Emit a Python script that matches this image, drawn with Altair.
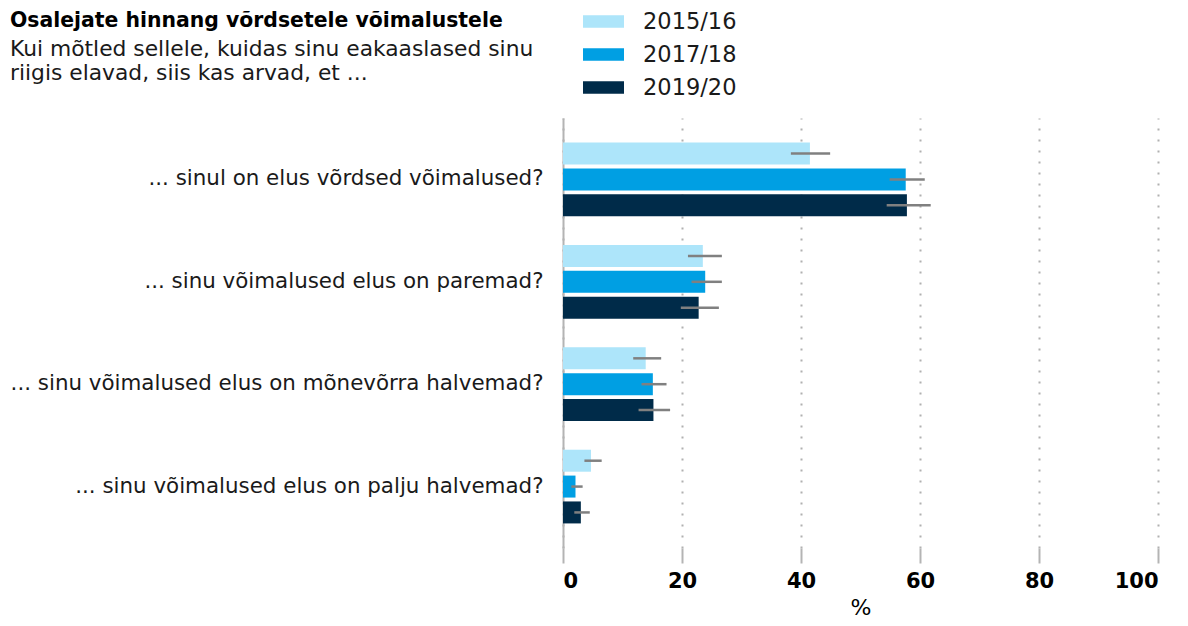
import altair as alt
import pandas as pd

questions = [
    "... sinul on elus võrdsed võimalused?",
    "... sinu võimalused elus on paremad?",
    "... sinu võimalused elus on mõnevõrra halvemad?",
    "... sinu võimalused elus on palju halvemad?",
]
years = ["2015/16", "2017/18", "2019/20"]
colors = ["#ADE5FA", "#009FE3", "#002B49"]

v2015 = [41.5, 23.5, 13.9, 4.7]
v2017 = [57.6, 23.9, 15.1, 2.1]
v2019 = [57.8, 22.8, 15.2, 3.0]
lo2015 = [38.3, 21.0, 11.8, 3.6]
hi2015 = [44.9, 26.7, 16.5, 6.5]
lo2017 = [54.9, 21.6, 13.2, 1.4]
hi2017 = [60.8, 26.7, 17.4, 3.3]
lo2019 = [54.4, 19.8, 12.7, 1.9]
hi2019 = [61.8, 26.2, 18.0, 4.5]

x_ticks = [0, 20, 40, 60, 80, 100]

rows = []
for yr, vals, los, his in [
    (years[0], v2015, lo2015, hi2015),
    (years[1], v2017, lo2017, hi2017),
    (years[2], v2019, lo2019, hi2019),
]:
    for q, v, lo, hi in zip(questions, vals, los, his):
        rows.append({"question": q, "year": yr, "value": v, "lo": lo, "hi": hi})
df = pd.DataFrame(rows)

FONT = "DejaVu Sans"

y_enc = alt.Y(
    "question:N",
    sort=questions,
    title=None,
    scale=alt.Scale(paddingInner=0.28, paddingOuter=0.24),
    axis=alt.Axis(
        labelFontSize=21.4,
        labelFont=FONT,
        labelColor="#1a1a1a",
        labelPadding=20,
        labelLimit=700,
        ticks=False,
        domain=True,
        domainColor="#b4b4b4",
        domainWidth=2,
        grid=False,
    ),
)
yoff = alt.YOffset(
    "year:N", sort=years, scale=alt.Scale(paddingInner=0.15, paddingOuter=0)
)

bars = alt.Chart(df).mark_bar().encode(
    x=alt.X(
        "value:Q",
        scale=alt.Scale(domain=[0, 100], nice=False),
        title="%",
        axis=alt.Axis(
            values=x_ticks,
            labelFontSize=21,
            labelFont=FONT,
            labelFontWeight="bold",
            labelColor="#000000",
            labelPadding=7,
            tickSize=15,
            tickColor="#b4b4b4",
            tickWidth=2,
            domain=False,
            grid=True,
            gridColor="#b0b0b0",
            gridWidth=2,
            gridDash=[2, 9],
            titleFontSize=22,
            titleFont=FONT,
            titleFontWeight="normal",
            titleColor="#000000",
            titlePadding=6,
        ),
    ),
    y=y_enc,
    yOffset=yoff,
    color=alt.Color(
        "year:N",
        sort=years,
        scale=alt.Scale(domain=years, range=colors),
        legend=alt.Legend(
            title=None,
            orient="none",
            legendX=20,
            legendY=-117,
            symbolType="M-1,-0.305H1V0.305H-1Z",
            symbolSize=1681,
            symbolStrokeWidth=0,
            symbolOpacity=1,
            labelFontSize=22.5,
            labelFont=FONT,
            labelColor="#1a1a1a",
            labelOffset=19,
            rowPadding=1,
            padding=0,
        ),
    ),
)

errs = alt.Chart(df).mark_rule(color="#808080", strokeWidth=2.5).encode(
    x="lo:Q",
    x2="hi:Q",
    y=alt.Y("question:N", sort=questions),
    yOffset=alt.YOffset("year:N", sort=years),
)

chart = (
    alt.layer(bars, errs)
    .properties(
        width=595,
        height=430,
        autosize=alt.AutoSizeParams(type="none"),
        padding={"left": 555, "top": 110, "right": 20, "bottom": 70},
        title=alt.TitleParams(
            text="Osalejate hinnang võrdsetele võimalustele",
            subtitle=["Kui mõtled sellele, kuidas sinu eakaaslased sinu", "riigis elavad, siis kas arvad, et ..."],
            anchor="start",
            frame="group",
            orient="top",
            dx=-553,
            offset=-84,
            font=FONT,
            fontSize=20.4,
            fontWeight="bold",
            color="#000000",
            subtitleFont=FONT,
            subtitleFontSize=21.8,
            subtitleColor="#1a1a1a",
            subtitleLineHeight=24,
            subtitlePadding=8,
        ),
    )
    .configure_view(stroke=None)
)

chart.save("out.html", embed_options={"renderer": "svg", "actions": False})
